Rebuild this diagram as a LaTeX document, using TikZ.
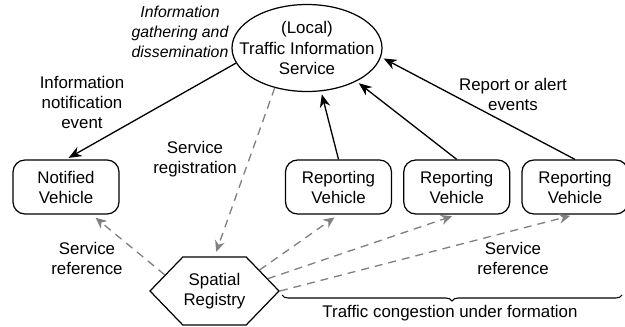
\documentclass[tikz,border=0pt]{standalone}
\usepackage{fontspec}
\setmainfont{Liberation Sans}
\usetikzlibrary{positioning,shapes.geometric,shapes.symbols,arrows.meta,decorations.pathreplacing}
\definecolor{refgray}{HTML}{808080}

\begin{document}
\begin{tikzpicture}[
    every node/.style={font=\fontsize{9.6}{11.4}\selectfont, text=black},
    svc/.style={draw, ellipse, line width=0.7pt, align=center, inner xsep=-3mm, inner ysep=0.3mm,
                minimum width=30mm, minimum height=17.4mm},
    veh/.style={draw, rounded corners=2.4mm, line width=0.7pt, align=center,
                minimum width=21.2mm, minimum height=10.8mm},
    reg/.style={draw, signal, signal to=west and east, signal pointer angle=92,
                line width=0.7pt, align=center, inner sep=0pt,
                minimum width=25.8mm, minimum height=13.6mm},
    lbl/.style={align=center, inner sep=1pt},
    ev/.style={-{Stealth[length=2.6mm,width=2.1mm]}, line width=0.75pt, shorten >=0.6mm},
    ref/.style={-{Stealth[length=2.2mm,width=2mm]}, draw=refgray, line width=0.75pt,
                dash pattern=on 1.6mm off 1.2mm, shorten >=1mm},
  ]
  \useasboundingbox (0,0) rectangle (125mm,-65.2mm);

  % service and vehicles
  \node[svc] (tis) at (61.4mm,-9.6mm) {(Local)\\Traffic Information\\Service};
  \node[veh] (notified) at (13.2mm,-37.4mm) {Notified\\Vehicle};
  \node[veh] (rep1) at (67.7mm,-37.4mm) {Reporting\\Vehicle};
  \node[veh, right=2.2mm of rep1] (rep2) {Reporting\\Vehicle};
  \node[veh, right=2.2mm of rep2] (rep3) {Reporting\\Vehicle};
  \node[reg] (registry) at (42.9mm,-58.2mm) {Spatial\\Registry};

  % events
  \draw[ev] (tis.192) -- (notified.north);
  \draw[ev] (rep1.north) -- (tis.-72);
  \draw[ev] (rep2.north) -- (tis.-34);
  \draw[ev] (rep3.north) -- (tis.-7);

  % registration and references
  \draw[ref] (tis.231) -- (registry.north);
  \draw[ref] (registry.162) -- (notified.-47);
  \draw[ref] (registry.25) -- (rep1.south);
  \draw[ref] (registry.13) -- (rep2.south);
  \draw[ref] (registry.east) -- (rep3.south);

  % labels
  \node[lbl, font=\fontsize{9}{11.4}\selectfont\itshape] (lblgather) at (36mm,-6.4mm)
        {Information\\gathering and\\dissemination};
  \node[lbl] (lblnotify) at (16.4mm,-20.4mm) {Information\\notification\\event};
  \node[lbl] (lblregister) at (39mm,-31.8mm) {Service\\registration};
  \node[lbl] (lblrefl) at (17.4mm,-51.6mm) {Service\\reference};
  \node[lbl] (lblrefr) at (102.6mm,-51.6mm) {Service\\reference};
  \node[lbl] (lblreport) at (102.6mm,-18.8mm) {Report or alert\\events};

  % congestion brace
  \coordinate (bl) at (56.4mm,-59mm);
  \coordinate (br) at (124.4mm,-59mm);
  \draw[line width=0.6pt, decorate, decoration={brace, mirror, amplitude=1.2mm}] (bl) -- (br);
  \node[lbl] (lblcong) at (90mm,-62.6mm) {Traffic congestion under formation};
\end{tikzpicture}
\end{document}
